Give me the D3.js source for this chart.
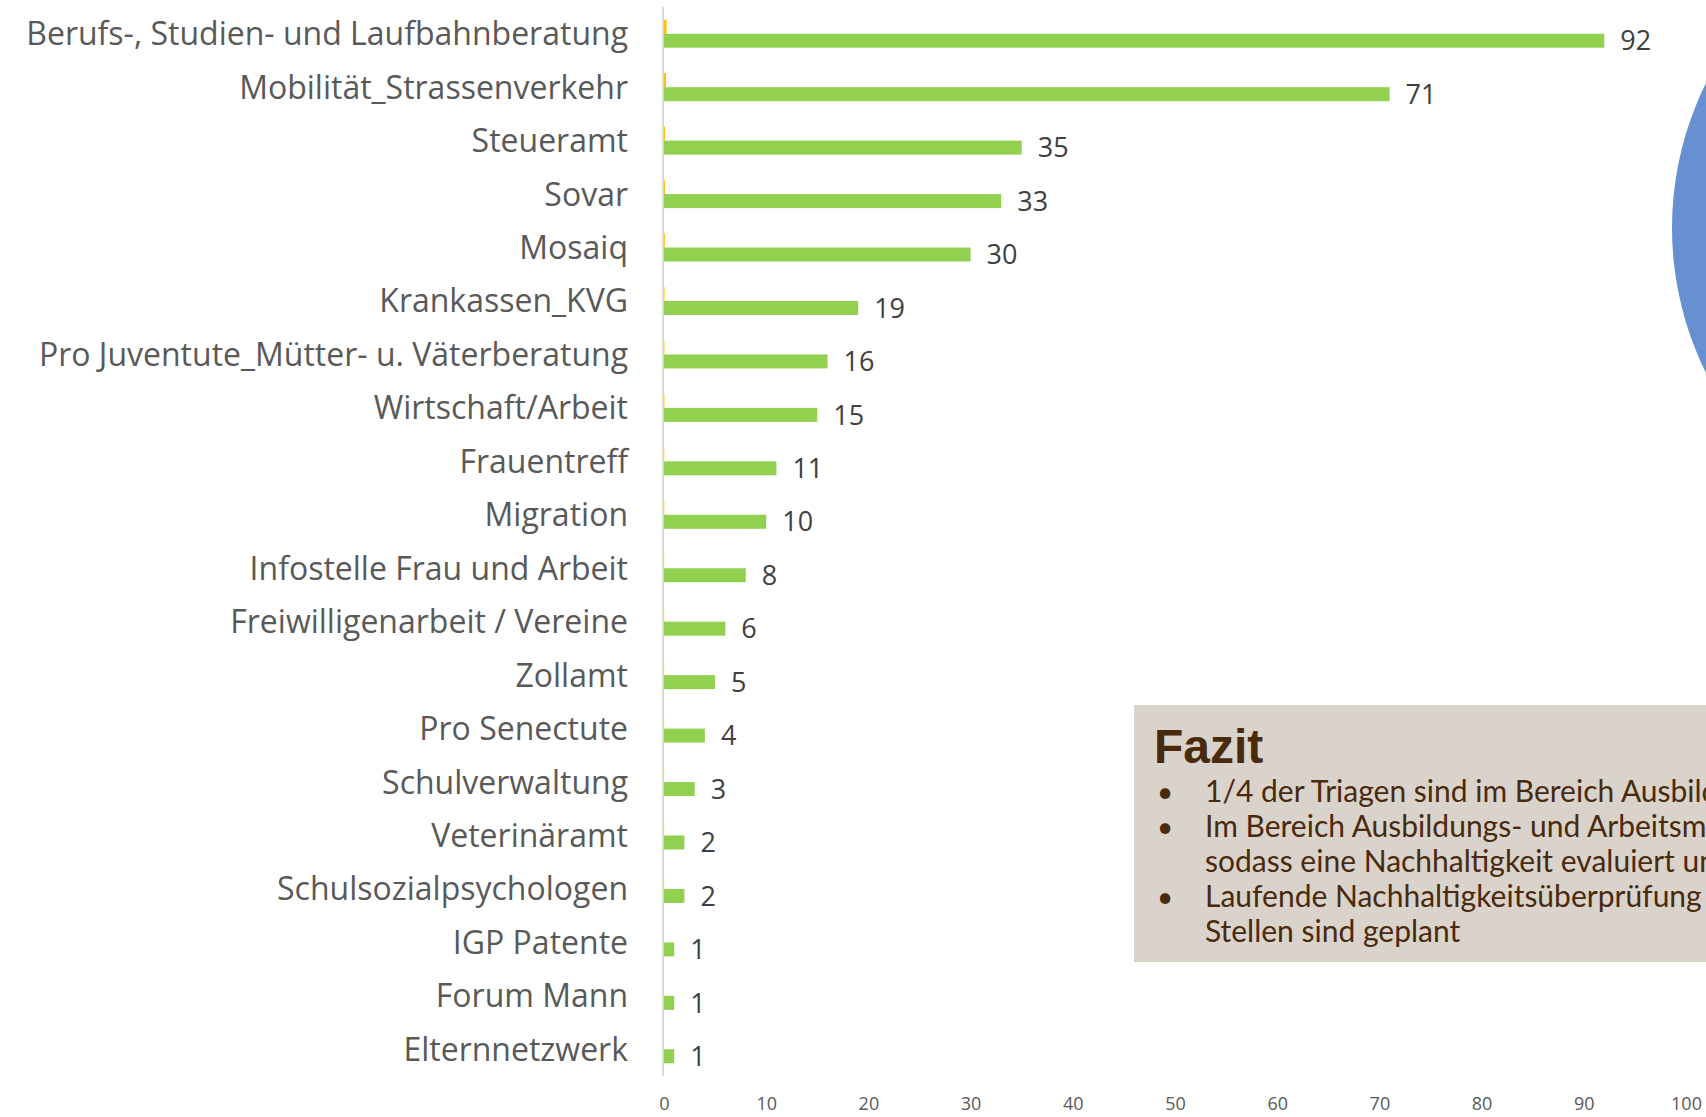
<!DOCTYPE html>
<html>
<head>
<meta charset="utf-8">
<script src="https://cdn.jsdelivr.net/npm/d3@7"></script>
<style>
  html, body { margin: 0; padding: 0; background: #ffffff; overflow: hidden; }
  svg { display: block; }
</style>
</head>
<body>
<svg id="chart" width="1706" height="1117"></svg>
<script>
// ---- data ----
const categories = [
  "Berufs-, Studien- und Laufbahnberatung",
  "Mobilität_Strassenverkehr",
  "Steueramt",
  "Sovar",
  "Mosaiq",
  "Krankassen_KVG",
  "Pro Juventute_Mütter- u. Väterberatung",
  "Wirtschaft/Arbeit",
  "Frauentreff",
  "Migration",
  "Infostelle Frau und Arbeit",
  "Freiwilligenarbeit / Vereine",
  "Zollamt",
  "Pro Senectute",
  "Schulverwaltung",
  "Veterinäramt",
  "Schulsozialpsychologen",
  "IGP Patente",
  "Forum Mann",
  "Elternnetzwerk"
];
const counts = [92, 71, 35, 33, 30, 19, 16, 15, 11, 10, 8, 6, 5, 4, 3, 2, 2, 1, 1, 1];
const shares = [0.25, 0.19, 0.10, 0.09, 0.08, 0.05, 0.04, 0.04, 0.03, 0.03, 0.02, 0.02, 0.01, 0.01, 0.01, 0.01, 0.01, 0.00, 0.00, 0.00];
const xTicks = [0, 10, 20, 30, 40, 50, 60, 70, 80, 90, 100];
const fazitTitle = "Fazit";
const fazitLines = [
  { bullet: true,  text: "1/4 der Triagen sind im Bereich Ausbildung" },
  { bullet: true,  text: "Im Bereich Ausbildungs- und Arbeitsmarkt" },
  { bullet: false, text: "sodass eine Nachhaltigkeit evaluiert und" },
  { bullet: true,  text: "Laufende Nachhaltigkeitsüberprüfung" },
  { bullet: false, text: "Stellen sind geplant" }
];

const svg = d3.select("#chart");

// ---- background pie (partially visible) ----
svg.append("circle")
  .attr("cx", 1998).attr("cy", 228).attr("r", 326)
  .attr("fill", "#6790d2");

// ---- scales ----
const x = d3.scaleLinear().domain([0, 100]).range([664, 1686]);
const y = d3.scaleBand().domain(categories).range([7, 1076])
  .paddingInner(0.476).paddingOuter(0.238);
const sub = d3.scaleBand().domain(["share", "count"]).range([0, y.bandwidth()]);

const rows = categories.map((c, i) => ({ c, count: counts[i], share: shares[i] }));

// ---- bars ----
const g = svg.append("g");
g.selectAll("rect.share").data(rows).join("rect")
  .attr("class", "share")
  .attr("x", x(0))
  .attr("y", d => y(d.c) + sub("share"))
  .attr("width", d => x(d.share) - x(0))
  .attr("height", sub.bandwidth())
  .attr("fill", "#ffc000");

g.selectAll("rect.count").data(rows).join("rect")
  .attr("class", "count")
  .attr("x", x(0))
  .attr("y", d => y(d.c) + sub("count"))
  .attr("width", d => x(d.count) - x(0))
  .attr("height", sub.bandwidth())
  .attr("fill", "#92d050");

// value labels
g.selectAll("text.val").data(rows).join("text")
  .attr("class", "val")
  .attr("x", d => x(d.count) + 16)
  .attr("y", d => y(d.c) + sub("count") + sub.bandwidth() / 2)
  .attr("dy", "0.36em")
  .attr("font-family", "'Open Sans', sans-serif")
  .attr("font-size", 27)
  .attr("fill", "#404040")
  .text(d => d.count);

// ---- category axis ----
svg.append("line")
  .attr("x1", 663).attr("x2", 663)
  .attr("y1", 7).attr("y2", 1076)
  .attr("stroke", "#d9d9d9").attr("stroke-width", 2);

svg.append("g").selectAll("text").data(categories).join("text")
  .attr("x", 628)
  .attr("y", d => y(d) + y.bandwidth() / 2)
  .attr("dy", "0.36em")
  .attr("text-anchor", "end")
  .attr("font-family", "'Open Sans', sans-serif")
  .attr("font-size", 32)
  .attr("fill", "#595959")
  .text(d => d);

// ---- value axis (labels only) ----
const xAxis = d3.axisBottom(x).tickValues(xTicks).tickSize(0).tickPadding(0);
const ax = svg.append("g").attr("transform", "translate(0,1104)").call(xAxis);
ax.select(".domain").remove();
ax.selectAll("text")
  .attr("y", 0)
  .attr("dy", "0.36em")
  .attr("font-family", "'Open Sans', sans-serif")
  .attr("font-size", 18)
  .attr("fill", "#595959");

// ---- Fazit box ----
const box = svg.append("g");
box.append("rect")
  .attr("x", 1134).attr("y", 705).attr("width", 700).attr("height", 257)
  .attr("fill", "#d9d3cc");
box.append("text")
  .attr("x", 1154).attr("y", 763)
  .attr("font-family", "'Liberation Sans', Arial, sans-serif")
  .attr("font-weight", "bold")
  .attr("font-size", 48)
  .attr("fill", "#4a2a0c")
  .text(fazitTitle);
const lineY = d3.scaleLinear().domain([0, 1]).range([802, 837]);
box.selectAll("text.bl").data(fazitLines.filter(d => d.bullet)).join("text")
  .attr("class", "bl")
  .attr("x", 1157)
  .attr("y", d => lineY(fazitLines.indexOf(d)))
  .attr("font-family", "Lato, sans-serif")
  .attr("font-size", 28)
  .attr("fill", "#4a2a0c")
  .text("•");
box.selectAll("text.ln").data(fazitLines).join("text")
  .attr("class", "ln")
  .attr("x", 1205)
  .attr("y", (d, i) => lineY(i))
  .attr("font-family", "Lato, sans-serif")
  .attr("font-size", 30)
  .attr("fill", "#4a2a0c")
  .text(d => d.text);
</script>
</body>
</html>
